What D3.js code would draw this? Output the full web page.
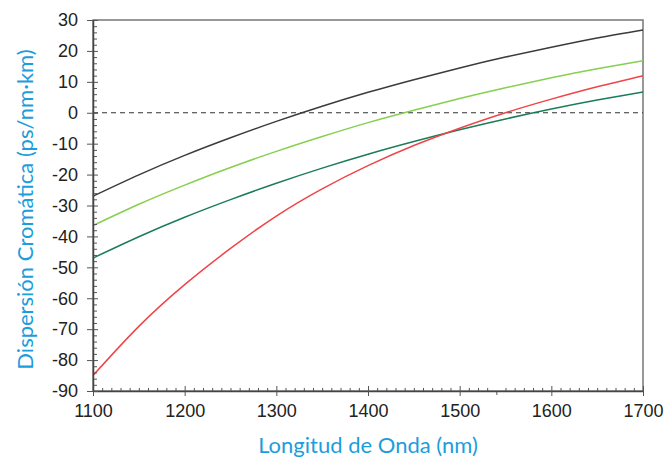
<!DOCTYPE html>
<html>
<head>
<meta charset="utf-8">
<script src="https://cdn.jsdelivr.net/npm/d3@7"></script>
<style>
  body { margin: 0; background: #fff; }
  .tick text { font-family: "Liberation Sans", Arial, sans-serif; }
</style>
</head>
<body>
<div id="chart"></div>
<script>
// longitud de onda (nm)
const wavelengths = [1100, 1150, 1200, 1250, 1300, 1350, 1400, 1450, 1500, 1550, 1600, 1650, 1700];

// dispersión (ps/nm·km)
const blackSeries  = [-27, -20.1, -13.8, -8.1, -2.8, 2.1, 6.6, 10.7, 14.5, 18.0, 21.2, 24.2, 26.8];
const lightGreen   = [-36.5, -29.6, -23.4, -17.7, -12.5, -7.7, -3.2, 0.8, 4.6, 8.1, 11.3, 14.2, 16.8];
const darkGreen    = [-47, -40.1, -33.8, -28.1, -22.8, -17.9, -13.4, -9.3, -5.5, -2.0, 1.2, 4.1, 6.7];
const redSeries    = [-85, -69.1, -55.6, -43.9, -33.4, -24.6, -17.1, -10.6, -5.0, 0, 4.4, 8.4, 12.0];

const xTicks = [1100, 1200, 1300, 1400, 1500, 1600, 1700];
const yTicks = [30, 20, 10, 0, -10, -20, -30, -40, -50, -60, -70, -80, -90];

const series = [
  { name: "black", values: blackSeries, color: "#3b3b3b" },
  { name: "lightGreen", values: lightGreen, color: "#86cf4f" },
  { name: "darkGreen", values: darkGreen, color: "#1b7d57" },
  { name: "red", values: redSeries, color: "#ef4548" }
];

const W = 665, H = 461;
const margin = { top: 20, right: 22, bottom: 70, left: 93 };
const width = W - margin.left - margin.right;
const height = H - margin.top - margin.bottom;

const svg = d3.select("#chart")
  .append("svg")
  .attr("width", W)
  .attr("height", H);

const chart = svg.append("g")
  .attr("transform", `translate(${margin.left},${margin.top})`);

const x = d3.scaleLinear().domain([1100, 1700]).range([0, width]);
const y = d3.scaleLinear().domain([-90, 30]).range([height, 0]);

const xMinor = d3.range(1110, 1700, 10).filter(d => d % 100 !== 0 && d !== 1540);
const yMinor = d3.range(-88, 30, 2).filter(d => d % 10 !== 0);

// frame top / right
chart.append("rect")
  .attr("width", width)
  .attr("height", height)
  .attr("fill", "none")
  .attr("stroke", "#777")
  .attr("stroke-width", 1.5);

// dashed zero line
chart.append("line")
  .attr("x1", 0).attr("x2", width)
  .attr("y1", y(0)).attr("y2", y(0))
  .attr("stroke", "#333")
  .attr("stroke-width", 1.2)
  .attr("stroke-dasharray", "5,4");

// curves
const line = d3.line()
  .x((d, i) => x(wavelengths[i]))
  .y(d => y(d))
  .curve(d3.curveNatural);

chart.selectAll("path.curve")
  .data(series)
  .enter()
  .append("path")
  .attr("class", "curve")
  .attr("d", d => line(d.values))
  .attr("fill", "none")
  .attr("stroke", d => d.color)
  .attr("stroke-width", 1.5);

const tickColor = "#555";
function styleAxis(g, keepDomain) {
  if (!keepDomain) g.select(".domain").remove();
  else g.select(".domain").attr("stroke", "#444").attr("stroke-width", 1.5);
  g.selectAll(".tick line").attr("stroke", tickColor).attr("stroke-width", 1);
}

// X axis
chart.append("g")
  .attr("transform", `translate(0,${height})`)
  .call(d3.axisBottom(x).tickValues(xMinor).tickSize(-3).tickFormat(""))
  .call(g => styleAxis(g, false));

chart.append("g")
  .attr("transform", `translate(0,${height})`)
  .call(d3.axisBottom(x).tickValues([1540]).tickSize(4).tickFormat(""))
  .call(g => styleAxis(g, false));

chart.append("g")
  .attr("transform", `translate(0,${height})`)
  .call(d3.axisBottom(x).tickValues(xTicks).tickSize(-5).tickFormat(""))
  .call(g => styleAxis(g, false));

chart.append("g")
  .attr("transform", `translate(0,${height})`)
  .call(d3.axisBottom(x).tickValues(xTicks).tickSize(5).tickSizeOuter(0).tickPadding(8).tickFormat(d => String(d)))
  .call(g => styleAxis(g, true))
  .call(g => g.selectAll(".tick text")
    .style("font-size", "18px")
    .attr("fill", "#222"));

// Y axis
chart.append("g")
  .call(d3.axisLeft(y).tickValues(yMinor).tickSize(-4).tickFormat(""))
  .call(g => styleAxis(g, false));

chart.append("g")
  .call(d3.axisLeft(y).tickValues(yTicks).tickSize(-5).tickFormat(""))
  .call(g => styleAxis(g, false));

chart.append("g")
  .call(d3.axisLeft(y).tickValues(yTicks).tickSize(6).tickSizeOuter(0).tickPadding(9).tickFormat(d => String(d)))
  .call(g => styleAxis(g, true))
  .call(g => g.selectAll(".tick text")
    .style("font-size", "18px")
    .attr("fill", "#222"));

// X Axis Label
svg.append("text")
  .attr("x", margin.left + width / 2)
  .attr("y", 453)
  .attr("text-anchor", "middle")
  .style("font-family", "Lato, 'Open Sans', sans-serif")
  .style("font-size", "22px")
  .attr("fill", "#1c9ddc")
  .text("Longitud de Onda (nm)");

// Y Axis Label
svg.append("text")
  .attr("transform", "rotate(-90)")
  .attr("x", -(margin.top + height / 2) - 4)
  .attr("y", 33)
  .attr("text-anchor", "middle")
  .style("font-family", "Lato, 'Open Sans', sans-serif")
  .style("font-size", "22px")
  .attr("fill", "#1c9ddc")
  .text("Dispersión Cromática (ps/nm·km)");
</script>
</body>
</html>
